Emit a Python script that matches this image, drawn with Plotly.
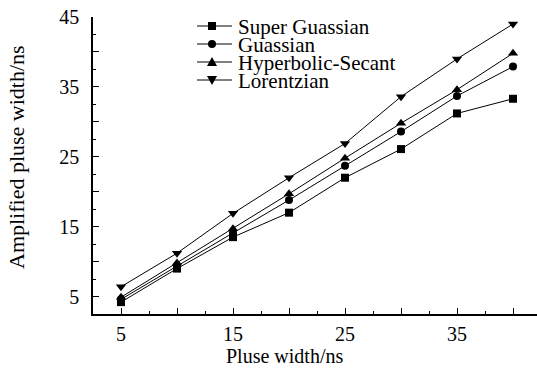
import plotly.graph_objects as go

pulse_width = [5, 10, 15, 20, 25, 30, 35, 40]
super_guassian = [4.2, 9.0, 13.5, 17.0, 22.0, 26.1, 31.2, 33.3]
guassian = [4.6, 9.4, 14.1, 18.8, 23.7, 28.6, 33.7, 37.9]
hyperbolic_secant = [4.9, 9.8, 14.7, 19.7, 24.8, 29.8, 34.6, 39.8]
lorentzian = [6.4, 11.2, 16.9, 22.0, 26.9, 33.6, 39.0, 44.0]

series_names = ["Super Guassian", "Guassian", "Hyperbolic-Secant", "Lorentzian"]
series_values = [super_guassian, guassian, hyperbolic_secant, lorentzian]
symbols = ["square", "circle", "triangle-up", "triangle-down"]
sizes = [8, 8, 9, 9]

x_major = [5, 10, 15, 20, 25, 30, 35, 40]
x_text = ["5", "", "15", "", "25", "", "35", ""]
y_major = [5, 10, 15, 20, 25, 30, 35, 40, 45]
y_text = ["5", "", "15", "", "25", "", "35", "", "45"]

FONT = "Liberation Serif"

# plot area in pixels
L, R, T, B = 93, 537, 17, 314
W, H = R - L, B - T


def pxx(v):
    return (v - L) / W


def pxy(v):
    return (B - v) / H


fig = go.Figure()
for name, vals, sym, sz in zip(series_names, series_values, symbols, sizes):
    fig.add_trace(go.Scatter(
        x=pulse_width, y=vals, name=name, mode="lines+markers",
        line=dict(color="black", width=1),
        marker=dict(symbol=sym, size=sz, color="black"),
        showlegend=False,
    ))

# custom compact legend (keys + labels)
shapes = []
annotations = []
row_y = [26, 44, 62, 80]
for i, name in enumerate(series_names):
    y = row_y[i]
    shapes.append(dict(type="line", xref="paper", yref="paper",
                       x0=pxx(197), x1=pxx(232), y0=pxy(y), y1=pxy(y),
                       line=dict(color="black", width=1)))
    cx = 212
    sym = symbols[i]
    if sym == "square":
        shapes.append(dict(type="rect", xref="paper", yref="paper",
                           x0=pxx(cx - 4), x1=pxx(cx + 4), y0=pxy(y + 4), y1=pxy(y - 4),
                           fillcolor="black", line=dict(width=0)))
    elif sym == "circle":
        shapes.append(dict(type="circle", xref="paper", yref="paper",
                           x0=pxx(cx - 4), x1=pxx(cx + 4), y0=pxy(y + 4), y1=pxy(y - 4),
                           fillcolor="black", line=dict(width=0)))
    elif sym == "triangle-up":
        path = "M {} {} L {} {} L {} {} Z".format(
            pxx(cx - 5), pxy(y + 4), pxx(cx + 5), pxy(y + 4), pxx(cx), pxy(y - 5))
        shapes.append(dict(type="path", xref="paper", yref="paper", path=path,
                           fillcolor="black", line=dict(width=0)))
    else:
        path = "M {} {} L {} {} L {} {} Z".format(
            pxx(cx - 5), pxy(y - 4), pxx(cx + 5), pxy(y - 4), pxx(cx), pxy(y + 5))
        shapes.append(dict(type="path", xref="paper", yref="paper", path=path,
                           fillcolor="black", line=dict(width=0)))
    annotations.append(dict(text=name, xref="paper", yref="paper",
                            x=pxx(237), y=pxy(y + 1), xanchor="left", yanchor="middle",
                            showarrow=False, borderpad=0,
                            font=dict(size=21, family=FONT, color="black")))

annotations.append(dict(text="Pluse width/ns", xref="paper", yref="paper",
                        x=pxx(284), y=pxy(355.5), xanchor="center", yanchor="middle",
                        showarrow=False, borderpad=0,
                        font=dict(size=20, family=FONT, color="black")))
annotations.append(dict(text="Amplified pluse width/ns", xref="paper", yref="paper",
                        x=pxx(16), y=pxy(157), xanchor="center", yanchor="middle",
                        textangle=-90, showarrow=False, borderpad=0,
                        font=dict(size=22, family=FONT, color="black")))

fig.update_layout(
    width=537, height=368,
    margin=dict(l=L, r=537 - R, t=T, b=368 - B),
    paper_bgcolor="white", plot_bgcolor="white",
    font=dict(family=FONT, color="black", size=20),
    showlegend=False,
    xaxis=dict(range=[2.5, 2.5 + W / 11.2], showgrid=False, zeroline=False,
               showline=True, linecolor="black", linewidth=1.5,
               tickmode="array", tickvals=x_major, ticktext=x_text,
               ticks="inside", ticklen=6, tickwidth=1.2, tickcolor="black",
               ticklabelstandoff=1,
               minor=dict(tickmode="array", tickvals=[7.5, 12.5, 17.5, 22.5, 27.5, 32.5, 37.5],
                          ticks="inside", ticklen=3, tickwidth=1.2, tickcolor="black"),
               tickfont=dict(size=20, family=FONT, color="black")),
    yaxis=dict(range=[2.5, 45], showgrid=False, zeroline=False,
               showline=True, linecolor="black", linewidth=1.5,
               tickmode="array", tickvals=y_major, ticktext=y_text,
               ticks="inside", ticklen=6, tickwidth=1.2, tickcolor="black",
               ticklabelstandoff=8,
               minor=dict(tickmode="array", tickvals=[7.5, 12.5, 17.5, 22.5, 27.5, 32.5, 37.5, 42.5],
                          ticks="inside", ticklen=3, tickwidth=1.2, tickcolor="black"),
               tickfont=dict(size=20, family=FONT, color="black")),
    shapes=shapes,
    annotations=annotations,
)

fig.write_html("out.html")
